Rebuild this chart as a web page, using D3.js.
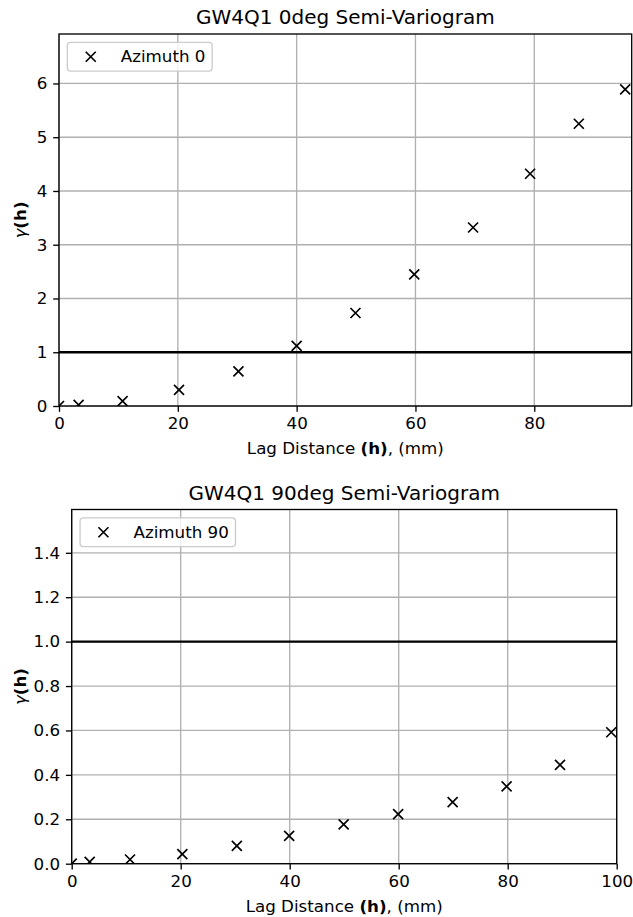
<!DOCTYPE html>
<html>
<head>
<meta charset="utf-8">
<script src="https://cdn.jsdelivr.net/npm/d3@7"></script>
<style>
  html, body { margin: 0; padding: 0; background: #ffffff; }
  svg { display: block; font-family: "DejaVu Sans", sans-serif; }
</style>
</head>
<body>
<svg id="chart" width="633" height="917"></svg>
<script>
// Azimuth 0 semi-variogram: lag distance (mm) and gamma(h)
const lag0 = [0, 3.3, 10.7, 20.2, 30.2, 40.0, 49.9, 59.8, 69.7, 79.3, 87.5, 95.3];
const gamma0 = [0, 0.02, 0.09, 0.30, 0.645, 1.12, 1.73, 2.45, 3.32, 4.32, 5.25, 5.89];

// Azimuth 90 semi-variogram
const lag90 = [0, 3.3, 10.7, 20.3, 30.3, 39.9, 49.9, 59.9, 69.9, 79.8, 89.6, 99.0];
const gamma90 = [0, 0.008, 0.019, 0.043, 0.080, 0.125, 0.177, 0.223, 0.277, 0.348, 0.445, 0.592];

// Axis ticks
const xTicks0 = [0, 20, 40, 60, 80];
const yTicks0 = [0, 1, 2, 3, 4, 5, 6];
const xTicks90 = [0, 20, 40, 60, 80, 100];
const yTicks90 = [0, 0.2, 0.4, 0.6, 0.8, 1.0, 1.2, 1.4];

// Sill reference level
const sill = 1.0;

const svg = d3.select("#chart");
const FS = 16.7;      // tick / label / legend font size
const TITLE_FS = 20;  // title font size

function panel(cfg) {
  const { left, right, top, bottom, xDomain, yDomain, xs, ys, xTicks, yTicks, yFmt, title, legend, id } = cfg;
  const x = d3.scaleLinear().domain(xDomain).range([left, right]);
  const y = d3.scaleLinear().domain(yDomain).range([bottom, top]);
  const g = svg.append("g");

  g.append("clipPath").attr("id", id)
    .append("rect").attr("x", left).attr("y", top)
    .attr("width", right - left).attr("height", bottom - top);

  // grid
  g.append("g").selectAll("line.vx").data(xTicks).join("line")
    .attr("x1", d => x(d)).attr("x2", d => x(d))
    .attr("y1", top).attr("y2", bottom)
    .attr("stroke", "#b0b0b0").attr("stroke-width", 1.33);
  g.append("g").selectAll("line.hy").data(yTicks).join("line")
    .attr("x1", left).attr("x2", right)
    .attr("y1", d => y(d)).attr("y2", d => y(d))
    .attr("stroke", "#b0b0b0").attr("stroke-width", 1.33);

  // sill line
  g.append("line")
    .attr("x1", left).attr("x2", right)
    .attr("y1", y(sill)).attr("y2", y(sill))
    .attr("stroke", "#000").attr("stroke-width", 2.4)
    .attr("clip-path", `url(#${id})`);

  // markers
  const pts = xs.map((v, i) => [v, ys[i]]);
  const r = 5;
  g.append("g").attr("clip-path", `url(#${id})`)
    .selectAll("path").data(pts).join("path")
    .attr("d", d => {
      const cx = x(d[0]), cy = y(d[1]);
      return `M${cx - r},${cy - r}L${cx + r},${cy + r}M${cx - r},${cy + r}L${cx + r},${cy - r}`;
    })
    .attr("stroke", "#000").attr("stroke-width", 1.67).attr("fill", "none");

  // axes
  const xa = g.append("g").attr("transform", `translate(0,${bottom})`)
    .call(d3.axisBottom(x).tickValues(xTicks).tickSize(5.8).tickPadding(5.8).tickFormat(d3.format("d")));
  const ya = g.append("g").attr("transform", `translate(${left},0)`)
    .call(d3.axisLeft(y).tickValues(yTicks).tickSize(5.8).tickPadding(5.8).tickFormat(yFmt));
  [xa, ya].forEach(a => {
    a.select(".domain").remove();
    a.selectAll("line").attr("stroke", "#000").attr("stroke-width", 1.33);
    a.selectAll("text").attr("font-size", FS).attr("font-family", "DejaVu Sans").attr("fill", "#000");
  });

  // frame
  g.append("rect").attr("x", left).attr("y", top)
    .attr("width", right - left).attr("height", bottom - top)
    .attr("fill", "none").attr("stroke", "#000").attr("stroke-width", 1.33);

  // title
  g.append("text").attr("x", (left + right) / 2).attr("y", top - 10)
    .attr("text-anchor", "middle").attr("font-size", TITLE_FS).attr("fill", "#000")
    .text(title);

  // x label
  const xl = g.append("text").attr("x", (left + right) / 2).attr("y", bottom + 48)
    .attr("text-anchor", "middle").attr("font-size", FS).attr("fill", "#000");
  xl.append("tspan").text("Lag Distance ");
  xl.append("tspan").attr("font-weight", "bold").text("(h)");
  xl.append("tspan").text(", (mm)");

  // y label
  const yl = g.append("text")
    .attr("transform", `translate(${cfg.yLabelX},${(top + bottom) / 2}) rotate(-90)`)
    .attr("text-anchor", "middle").attr("font-size", FS).attr("fill", "#000");
  yl.append("tspan").attr("font-style", "italic").text("γ");
  yl.append("tspan").attr("font-weight", "bold").text("(h)");

  // legend
  const pad = 0.4 * FS, handle = 2 * FS, gap = 0.8 * FS;
  const lx = left + 0.5 * FS, ly = top + 0.5 * FS;
  const lg = g.append("g");
  const box = lg.append("rect");
  const txt = lg.append("text").attr("x", lx + pad + handle + gap).attr("y", ly + 20)
    .attr("font-size", FS).attr("fill", "#000").text(legend);
  const tw = txt.node().getComputedTextLength();
  box.attr("x", lx).attr("y", ly).attr("rx", 3.3)
    .attr("width", pad + handle + gap + tw + pad).attr("height", 28.7)
    .attr("fill", "#fff").attr("fill-opacity", 0.8)
    .attr("stroke", "#cccccc").attr("stroke-width", 1.33);
  const mx = lx + pad + handle / 2, my = ly + 14.4;
  lg.append("path")
    .attr("d", `M${mx - r},${my - r}L${mx + r},${my + r}M${mx - r},${my + r}L${mx + r},${my - r}`)
    .attr("stroke", "#000").attr("stroke-width", 1.67);
}

panel({
  id: "clip0", left: 59, right: 631.7, top: 34, bottom: 406,
  xDomain: [0, 96.4], yDomain: [0, 6.92],
  xs: lag0, ys: gamma0, xTicks: xTicks0, yTicks: yTicks0,
  yFmt: d3.format("d"), title: "GW4Q1 0deg Semi-Variogram",
  legend: "Azimuth 0", yLabelX: 26
});

panel({
  id: "clip90", left: 71.7, right: 616.7, top: 509.5, bottom: 863.7,
  xDomain: [0, 100], yDomain: [0, 1.595],
  xs: lag90, ys: gamma90, xTicks: xTicks90, yTicks: yTicks90,
  yFmt: d3.format(".1f"), title: "GW4Q1 90deg Semi-Variogram",
  legend: "Azimuth 90", yLabelX: 26
});
</script>
</body>
</html>
